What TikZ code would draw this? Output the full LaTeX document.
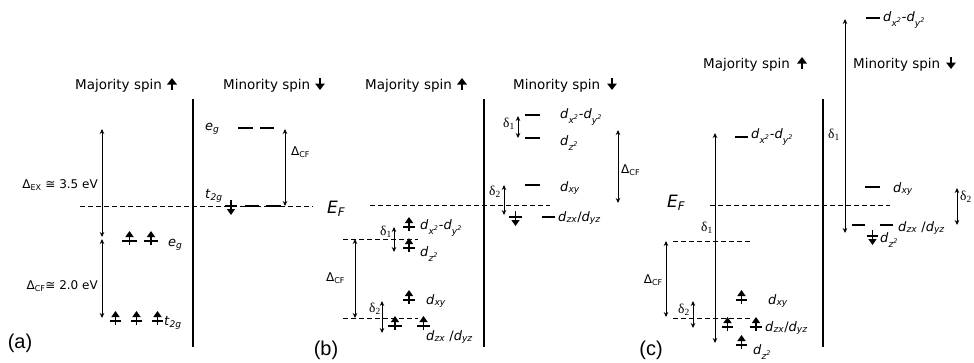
\documentclass[tikz,border=0pt]{standalone}
\usepackage{fontspec}
\setmainfont{DejaVu Sans}
\newfontfamily\serfont{Liberation Serif}
\newfontfamily\arialfont{Liberation Sans}
\usetikzlibrary{arrows.meta}
\newcommand\myorb[1]{\textit{d}\textsubscript{\textit{#1}}}
\newcommand\mysq[1]{\myorb{#1\textsuperscript{2}}}
\newcommand\mydxy{\myorb{xy}}
\newcommand\mydxx{\mysq{x}-\mysq{y}}
\newcommand\mydzz{\mysq{z}}
\newcommand\mydzx{\myorb{zx}/\myorb{yz}}
\newcommand\mydzxs{\myorb{zx} /\myorb{yz}}
\newcommand\mylv[3]{\draw[lvl] (#1,#3) -- (#2,#3);}
\newcommand\myup[2]{\draw[spin] (#1,#2+4) -- (#1,#2-10);}
\newcommand\mydn[2]{\draw[spin] (#1,#2-6) -- (#1,#2+9);}
\tikzset{
  lvl/.style={line width=2.4pt},
  sepline/.style={line width=1.7pt},
  efl/.style={line width=1pt, dash pattern=on 5pt off 3pt},
  gaparr/.style={line width=1pt, {Stealth[length=5pt,width=4.5pt]}-{Stealth[length=5pt,width=4.5pt]}},
  spin/.style={line width=1.4pt, -{Triangle[length=6pt,width=8pt]}},
  hdrarr/.style={line width=1.8pt, -{Triangle[length=6.5pt,width=9.5pt]}},
  hdr/.style={font=\fontsize{13.5}{16}\selectfont, anchor=base west, inner sep=0pt},
  lab/.style={font=\fontsize{13}{15}\selectfont, anchor=west, inner sep=0pt},
  dlt/.style={font=\fontsize{12}{14}\selectfont, inner sep=0pt},
  big/.style={font=\fontsize{17}{20}\selectfont, anchor=west, inner sep=0pt},
  dlab/.style={font=\serfont\fontsize{13.5}{15}\selectfont, inner sep=0pt},
  panel/.style={font=\arialfont\fontsize{20}{22}\selectfont, inner sep=0pt},
}
\begin{document}
\begin{tikzpicture}[x=1pt,y=-1pt]
\useasboundingbox (0,0) rectangle (974,362);
% ================= (a) =================
\node[hdr] (majA) at (75,89) {Majority spin};
\draw[hdrarr] (172,90) -- (172,78);
\node[hdr] (minA) at (223,89) {Minority spin};
\draw[hdrarr] (320,78) -- (320,90);
\draw[sepline] (193,99) -- (193,347);
\draw[efl] (80,206) -- (313,206);
\coordinate (a1) at (102,129); \coordinate (a2) at (102,237);
\coordinate (a3) at (102,239); \coordinate (a4) at (102,318);
\draw[gaparr] (a1) -- (a2);
\draw[gaparr] (a3) -- (a4);
\node[dlt, anchor=east] (dexA) at (98,185) {Δ\textsubscript{EX} ≅ 3.5 eV};
\node[dlt, anchor=east] (dcfA) at (98,286) {Δ\textsubscript{CF}≅ 2.0 eV};
\mylv{122}{137}{241} \mylv{144}{158}{241}
\myup{129.5}{241} \myup{151}{241}
\node[lab] (egA) at (168,245) {\textit{e}\textsubscript{\textit{g}}};
\mylv{110}{121}{321} \mylv{131}{142}{321} \mylv{152}{163}{321}
\myup{115.5}{321} \myup{136.5}{321} \myup{157.5}{321}
\node[lab] (tA) at (164,323) {\textit{t}\textsubscript{\textit{2g}}};
\node[lab] (egmA) at (205,129) {\textit{e}\textsubscript{\textit{g}}};
\mylv{238}{253}{128} \mylv{260}{274}{128}
\coordinate (a5) at (285,129); \coordinate (a6) at (285,206);
\draw[gaparr] (a5) -- (a6);
\node[dlt, anchor=west] (dcfmA) at (291,152) {Δ\textsubscript{CF}};
\node[lab] (tmA) at (205,196) {\textit{t}\textsubscript{\textit{2g}}};
\mylv{225}{237}{206} \mylv{245}{259}{206} \mylv{266}{281}{206}
\mydn{231}{206}
\node[panel] (pa) at (20,343) {(a)};
% ================= (b) =================
\node[hdr] (majB) at (365,89) {Majority spin};
\draw[hdrarr] (462,90) -- (462,78);
\node[hdr] (minB) at (513,89) {Minority spin};
\draw[hdrarr] (612,78) -- (612,90);
\draw[sepline] (484,99) -- (484,347);
\draw[efl] (370,205) -- (550,205);
\node[big] (efB) at (327,209) {\textit{E}\textsubscript{\textit{F}}};
% majority
\mylv{403}{415}{227} \myup{409}{227}
\node[lab] (b1) at (420,228) {\mydxx};
\draw[efl] (343,239) -- (418,239);
\coordinate (b2) at (394,227); \coordinate (b3) at (394,252);
\draw[gaparr] (b2) -- (b3);
\node[dlab, anchor=east] (d1B) at (392,232) {δ\textsubscript{1}};
\mylv{403}{415}{248} \myup{409}{248}
\node[lab] (b4) at (420,254) {\mydzz};
\coordinate (b5) at (355,239); \coordinate (b6) at (355,318);
\draw[gaparr] (b5) -- (b6);
\node[dlt, anchor=west] (dcfB) at (326,278) {Δ\textsubscript{CF}};
\draw[efl] (343,318) -- (418,318);
\coordinate (b7) at (382,301); \coordinate (b8) at (382,333);
\draw[gaparr] (b7) -- (b8);
\node[dlab, anchor=east] (d2B) at (381,309) {δ\textsubscript{2}};
\mylv{403}{415}{300} \myup{409}{300}
\node[lab] (b9) at (426,301) {\mydxy};
\mylv{388}{402}{326} \mylv{417}{430}{326}
\myup{395}{326} \myup{423.5}{326}
\node[lab] (b10) at (426,337) {\mydzxs};
% minority
\mylv{525}{540}{115}
\node[lab] (b11) at (560,117) {\mydxx};
\coordinate (b12) at (518,116); \coordinate (b13) at (518,138);
\draw[gaparr] (b12) -- (b13);
\node[dlab, anchor=east] (d1mB) at (515,124) {δ\textsubscript{1}};
\mylv{525}{540}{138}
\node[lab] (b14) at (560,143) {\mydzz};
\coordinate (b15) at (618,130); \coordinate (b16) at (618,203);
\draw[gaparr] (b15) -- (b16);
\node[dlt, anchor=west] (dcfmB) at (621,170) {Δ\textsubscript{CF}};
\mylv{525}{540}{185}
\node[lab] (b17) at (560,188) {\mydxy};
\coordinate (b18) at (504,185); \coordinate (b19) at (504,215);
\draw[gaparr] (b18) -- (b19);
\node[dlab, anchor=east] (d2mB) at (501,192) {δ\textsubscript{2}};
\mylv{509}{522}{217} \mylv{542}{555}{217}
\mydn{515.5}{217}
\node[lab] (b20) at (558,218) {\mydzx};
\node[panel] (pb) at (326,350) {(b)};
% ================= (c) =================
\node[hdr] (majC) at (703,68) {Majority spin};
\draw[hdrarr] (802,69) -- (802,57);
\node[hdr] (minC) at (853,68) {Minority spin};
\draw[hdrarr] (951,57) -- (951,69);
\draw[sepline] (823,99) -- (823,347);
\draw[efl] (710,205) -- (890,205);
\node[big] (efC) at (667,203) {\textit{E}\textsubscript{\textit{F}}};
% majority
\coordinate (c1) at (715,133); \coordinate (c2) at (715,343);
\draw[gaparr] (c1) -- (c2);
\node[dlab, anchor=east] (d1C) at (713,228) {δ\textsubscript{1}};
\mylv{735}{748}{137}
\node[lab] (c3) at (751,137) {\mydxx};
\draw[efl] (673,241) -- (750,241);
\coordinate (c4) at (666,241); \coordinate (c5) at (666,317);
\draw[gaparr] (c4) -- (c5);
\node[dlt, anchor=east] (dcfC) at (663,280) {Δ\textsubscript{CF}};
\draw[efl] (673,318) -- (752,318);
\coordinate (c6) at (693,301); \coordinate (c7) at (693,328);
\draw[gaparr] (c6) -- (c7);
\node[dlab, anchor=east] (d2C) at (690,310) {δ\textsubscript{2}};
\mylv{736}{747}{300} \myup{741.5}{300}
\node[lab] (c8) at (768,301) {\mydxy};
\mylv{722}{733}{327} \mylv{750}{762}{327}
\myup{727.5}{327} \myup{756}{327}
\node[lab] (c9) at (765,328) {\mydzx};
\mylv{736}{747}{345} \myup{741.5}{345}
\node[lab] (c10) at (753,352) {\mydzz};
% minority
\coordinate (c11) at (845,19); \coordinate (c12) at (845,233);
\draw[gaparr] (c11) -- (c12);
\node[dlab] (d1mC) at (834,135) {δ\textsubscript{1}};
\mylv{866}{880}{18}
\node[lab] (c13) at (883,20) {\mydxx};
\mylv{865}{880}{187}
\node[lab] (c14) at (893,189) {\mydxy};
\mylv{852}{865}{225} \mylv{880}{893}{225}
\node[lab] (c15) at (898,228) {\mydzxs};
\mylv{867}{878}{236} \mydn{872.5}{236}
\node[lab] (c16) at (880,240) {\mydzz};
\coordinate (c17) at (957,188); \coordinate (c18) at (957,225);
\draw[gaparr] (c17) -- (c18);
\node[dlab, anchor=west] (d2mC) at (960,197) {δ\textsubscript{2}};
\node[panel] (pc) at (651,350) {(c)};
\end{tikzpicture}
\end{document}
